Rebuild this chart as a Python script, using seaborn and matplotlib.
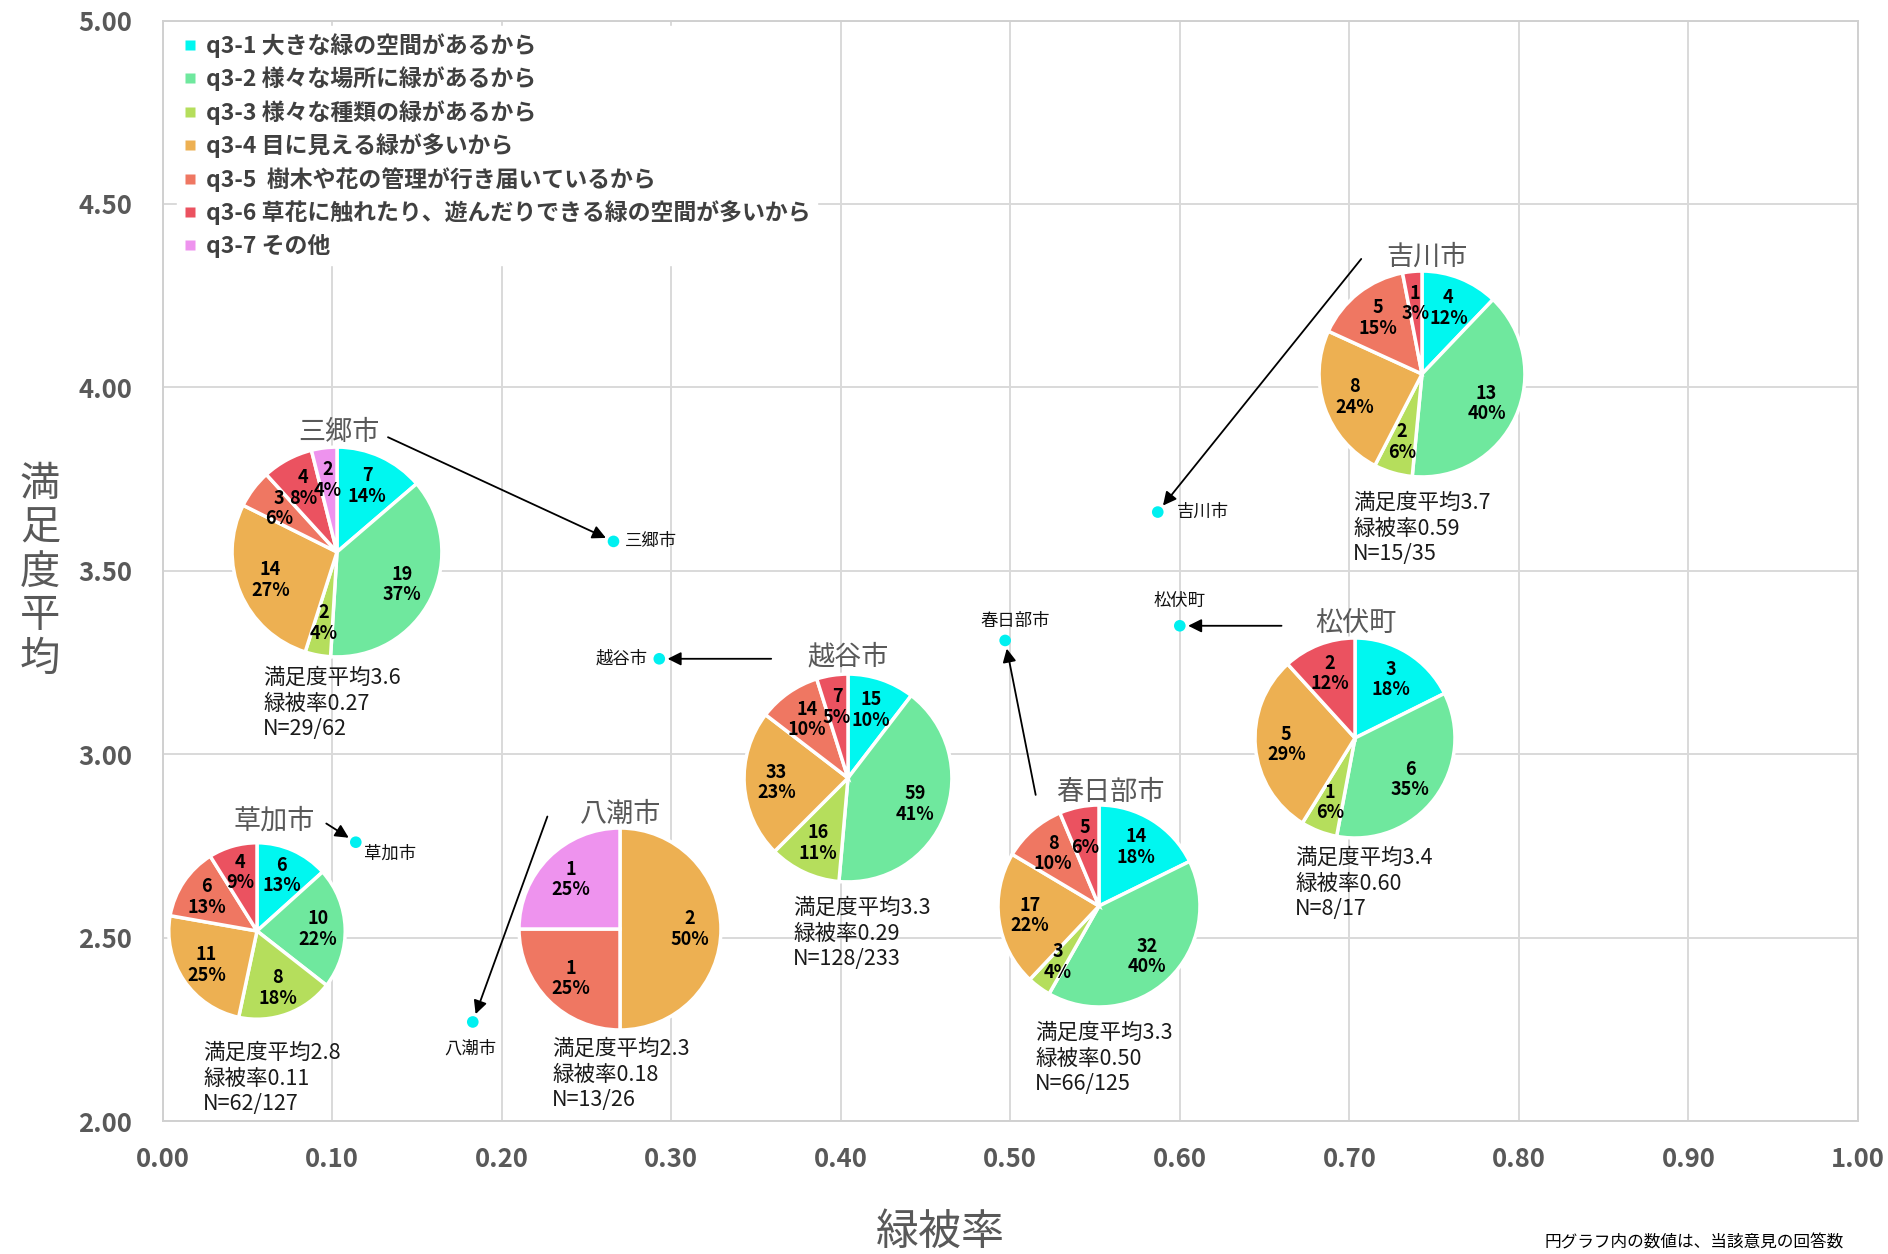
import numpy as np
import pandas as pd
import matplotlib
matplotlib.use("Agg")
import matplotlib.pyplot as plt
from matplotlib.lines import Line2D
import seaborn as sns

# 回答理由の区分
categories = [
    "q3-1 大きな緑の空間があるから",
    "q3-2 様々な場所に緑があるから",
    "q3-3 様々な種類の緑があるから",
    "q3-4 目に見える緑が多いから",
    "q3-5  樹木や花の管理が行き届いているから",
    "q3-6 草花に触れたり、遊んだりできる緑の空間が多いから",
    "q3-7 その他",
]
colors = ["#00F7F0", "#6FE89E", "#B5DE5C", "#EDB052", "#EF7762", "#EB5260", "#EE93EE"]

# 市町ごとの値
cities = ["三郷市", "越谷市", "春日部市", "吉川市", "松伏町", "草加市", "八潮市"]
green_rate = [0.266, 0.293, 0.497, 0.587, 0.600, 0.114, 0.183]
satisfaction = [3.58, 3.26, 3.31, 3.66, 3.35, 2.76, 2.27]
n_resp = [29, 128, 66, 15, 8, 62, 13]
n_total = [62, 233, 125, 35, 17, 127, 26]

# 円グラフ: 回答数 (q3-1 .. q3-7) と割合ラベル
counts_misato = [7, 19, 2, 14, 3, 4, 2]
counts_koshigaya = [15, 59, 16, 33, 14, 7, 0]
counts_kasukabe = [14, 32, 3, 17, 8, 5, 0]
counts_yoshikawa = [4, 13, 2, 8, 5, 1, 0]
counts_matsubushi = [3, 6, 1, 5, 0, 2, 0]
counts_soka = [6, 10, 8, 11, 6, 4, 0]
counts_yashio = [0, 0, 0, 2, 1, 0, 1]

pct_misato = [14, 37, 4, 27, 6, 8, 4]
pct_koshigaya = [10, 41, 11, 23, 10, 5, 0]
pct_kasukabe = [18, 40, 4, 22, 10, 6, 0]
pct_yoshikawa = [12, 40, 6, 24, 15, 3, 0]
pct_matsubushi = [18, 35, 6, 29, 0, 12, 0]
pct_soka = [13, 22, 18, 25, 13, 9, 0]
pct_yashio = [0, 0, 0, 50, 25, 0, 25]

pie_counts = [counts_misato, counts_koshigaya, counts_kasukabe, counts_yoshikawa,
              counts_matsubushi, counts_soka, counts_yashio]
pie_pcts = [pct_misato, pct_koshigaya, pct_kasukabe, pct_yoshikawa,
            pct_matsubushi, pct_soka, pct_yashio]

# レイアウト (画像ピクセル)
W, H = 1888, 1254
pie_center = [(337, 552), (848, 778), (1099, 906), (1422, 374), (1355, 738), (257, 931), (620, 929)]
pie_radius = [107, 106, 103, 105, 102, 90, 103]
name_pos = [(339, 433), (848, 657), (1110, 792), (1427, 257), (1356, 624), (274, 821), (621, 814)]
stat_pos = [(263, 667), (793, 897), (1035, 1022), (1353, 492), (1295, 847), (203, 1042), (552, 1038)]
arrow_start = [(0.133, 3.864), (0.359, 3.26), (0.515, 2.889), (0.707, 4.35),
               (0.660, 3.35), (0.0966, 2.811), (0.227, 2.830)]
label_off = [(8, 0, "left"), (-8, 0, "right"), (7, 14, "center"), (14, 0, "left"),
             (0, 18, "center"), (6, -8, "left"), (-2, -19, "center")]

sns.set_theme(style="whitegrid")
plt.rcParams["font.family"] = ["Noto Sans CJK JP", "DejaVu Sans"]

fig = plt.figure(figsize=(W / 100, H / 100), dpi=100)
ax = fig.add_axes([162.5 / W, 1 - 1121 / H, (1858 - 162.5) / W, (1121 - 20.5) / H])

df = pd.DataFrame({"市町": cities, "緑被率": green_rate, "満足度平均": satisfaction})
sns.scatterplot(data=df, x="緑被率", y="満足度平均", ax=ax, color="#00F0F0",
                s=70, edgecolor="none", zorder=5)

ax.set_xlim(0, 1)
ax.set_ylim(2, 5)
ax.set_xticks(np.arange(0, 1.01, 0.1))
ax.set_yticks(np.arange(2, 5.01, 0.5))
ax.xaxis.set_major_formatter(matplotlib.ticker.FormatStrFormatter("%.2f"))
ax.yaxis.set_major_formatter(matplotlib.ticker.FormatStrFormatter("%.2f"))
ax.tick_params(axis="x", length=0, pad=18, labelsize=18.5, labelcolor="#595959")
ax.tick_params(axis="y", length=0, pad=22, labelsize=18.5, labelcolor="#595959")
for lab in ax.get_xticklabels() + ax.get_yticklabels():
    lab.set_fontweight("bold")
ax.grid(color="#D9D9D9", linewidth=1.4)
for sp in ax.spines.values():
    sp.set_color("#D0D0D0")
    sp.set_linewidth(1.4)
ax.set_xlabel("")
ax.set_ylabel("")

# 散布図の点ラベルと矢印
for i, c in enumerate(cities):
    dx, dy, ha = label_off[i]
    ax.annotate(c, (green_rate[i], satisfaction[i]), xytext=(dx, dy),
                textcoords="offset points", ha=ha, va="center",
                fontsize=12.5, style="italic", color="#111111", zorder=6)
    ax.annotate("", xy=(green_rate[i], satisfaction[i]), xytext=arrow_start[i],
                arrowprops=dict(arrowstyle="-|>", color="black", lw=1.3,
                                shrinkA=0, shrinkB=6, mutation_scale=20), zorder=6)

# 円グラフ
for i, c in enumerate(cities):
    cx, cy = pie_center[i]
    r = pie_radius[i]
    pax = fig.add_axes([(cx - r) / W, (H - cy - r) / H, 2 * r / W, 2 * r / H])
    vals, cols, labs = [], [], []
    for k in range(len(categories)):
        if pie_counts[i][k] > 0:
            vals.append(pie_counts[i][k])
            cols.append(colors[k])
            labs.append(f"{pie_counts[i][k]}\n{pie_pcts[i][k]}%")
    wedges, texts = pax.pie(vals, colors=cols, labels=labs, startangle=90,
                            counterclock=False, labeldistance=0.69,
                            wedgeprops=dict(edgecolor="white", linewidth=2.5),
                            textprops=dict(fontsize=13, fontweight="bold",
                                           color="black", linespacing=1.1))
    for t in texts:
        t.set_ha("center")
        t.set_va("center")
    pax.set_xlim(-1.02, 1.02)
    pax.set_ylim(-1.02, 1.02)
    pax.set_axis_off()

    nx, ny = name_pos[i]
    fig.text(nx / W, 1 - ny / H, c, ha="center", va="center", fontsize=19.5,
             color="#595959")
    sx, sy = stat_pos[i]
    fig.text(sx / W, 1 - sy / H,
             f"満足度平均{satisfaction[i]:.1f}\n緑被率{green_rate[i]:.2f}\nN={n_resp[i]}/{n_total[i]}",
             ha="left", va="top", fontsize=15.5, color="#1A1A1A", linespacing=1.22)

# 凡例
handles = [Line2D([0], [0], marker="s", linestyle="none", markersize=6.5,
                  markerfacecolor=col, markeredgecolor="none") for col in colors]
leg = fig.legend(handles, categories, loc="upper left", bbox_to_anchor=(177 / W, 1 - 26 / H),
                 frameon=True, facecolor="white", edgecolor="white", framealpha=1,
                 fontsize=16.5, handlelength=0.5, handletextpad=0.45, labelspacing=0.38,
                 borderpad=0.3, borderaxespad=0)
for t in leg.get_texts():
    t.set_color("#404040")
    t.set_fontweight("bold")

# 軸タイトル
fig.text(940 / W, 1 - 1233 / H, "緑被率", ha="center", va="center", fontsize=31, color="#595959")
fig.text(40 / W, 1 - 572 / H, "満\n足\n度\n平\n均", ha="center", va="center", fontsize=29,
         color="#595959", linespacing=1.08)

fig.text(1545 / W, 1 - 1243 / H, "円グラフ内の数値は、当該意見の回答数", ha="left",
         va="center", fontsize=12, color="black")

fig.savefig("out.png", dpi=100)
